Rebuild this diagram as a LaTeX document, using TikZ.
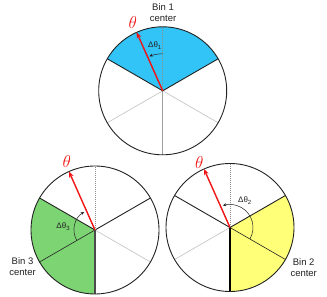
\documentclass[tikz,border=0pt]{standalone}
\usepackage{fontspec}
\setmainfont{Liberation Sans}
\usetikzlibrary{arrows.meta,calc}
\definecolor{binblue}{HTML}{33C4F7}
\definecolor{bingreen}{HTML}{7DD473}
\definecolor{binyellow}{HTML}{FFFF78}
\definecolor{ink}{HTML}{222222}
\definecolor{redarrow}{HTML}{F01414}
\tikzset{
  rim/.style={draw=ink, line width=0.9pt},
  edgeline/.style={draw=ink, line width=0.9pt},
  centerline/.style={draw=ink, line width=0.6pt},
  faintline/.style={draw=black!22, line width=0.7pt},
  axisline/.style={line width=1.5pt},
  dotline/.style={draw=black!45, line width=0.5pt, dash pattern=on 1pt off 1pt},
  thetaarrow/.style={draw=redarrow, line width=1.4pt, -{Stealth[length=6pt,width=5pt]}},
  deltaarc/.style={draw=ink, line width=0.5pt, -{Stealth[length=3.5pt,width=3pt]}},
  lbl/.style={font=\fontsize{9.5}{11}\selectfont, text=ink, align=center, inner sep=0pt},
  dlbl/.style={font=\fontsize{8}{9}\selectfont, text=ink, inner sep=0pt},
  thlbl/.style={font=\fontsize{16}{16}\selectfont, text=redarrow, inner sep=0pt}
}
\begin{document}
\begin{tikzpicture}[x=1pt,y=1pt]
\useasboundingbox (0,0) rectangle (327,297);
\def\R{64}
% ---------------- top circle ----------------
\coordinate (cA) at (162.7,206.2);
\fill[binblue] (cA) -- ++(30:\R) arc[start angle=30,end angle=150,radius=\R] -- cycle;
\draw[faintline] (cA) -- ++(210:\R);
\draw[faintline] (cA) -- ++(330:\R);
\draw[axisline, draw=black!38] (cA) -- ++(270:\R);
\draw[edgeline] (cA) -- ++(30:\R);
\draw[edgeline] (cA) -- ++(150:\R);
\draw[dotline] (cA) -- ++(90:\R);
\draw[rim] (cA) circle[radius=\R];
\draw[deltaarc] ($(cA)+(90:37)$) arc[start angle=90,end angle=111,radius=37];
\draw[thetaarrow] (cA) -- ++(114:\R) coordinate (tA);
\node[lbl] (bin1) at (163,284.5) {Bin 1\\center};
\node[thlbl] (thA) at (132.7,274.3) {$\theta$};
\node[dlbl] (dA) at (155,251.3) {Δθ\textsubscript{1}};
% ---------------- bottom-left circle ----------------
\coordinate (cB) at (95,67);
\fill[bingreen] (cB) -- ++(150:\R) arc[start angle=150,end angle=270,radius=\R] -- cycle;
\draw[faintline] (cB) -- ++(330:\R);
\draw[centerline] (cB) -- ++(210:\R);
\draw[axisline, draw=black!70] (cB) -- ++(270:\R);
\draw[edgeline] (cB) -- ++(30:\R);
\draw[edgeline] (cB) -- ++(150:\R);
\draw[dotline] (cB) -- ++(90:\R);
\draw[rim] (cB) circle[radius=\R];
\draw[deltaarc] ($(cB)+(210:21)$) arc[start angle=210,end angle=121,radius=21];
\draw[thetaarrow] (cB) -- ++(114:\R) coordinate (tB);
\node[lbl] (bin3) at (22.5,30) {Bin 3\\center};
\node[thlbl] (thB) at (66.7,135.3) {$\theta$};
\node[dlbl] (dB) at (63.3,70.3) {Δθ\textsubscript{3}};
% ---------------- bottom-right circle ----------------
\coordinate (cC) at (230,69.5);
\fill[binyellow] (cC) -- ++(270:\R) arc[start angle=270,end angle=390,radius=\R] -- cycle;
\draw[faintline] (cC) -- ++(210:\R);
\draw[centerline] (cC) -- ++(330:\R);
\draw[axisline, draw=black] (cC) -- ++(270:\R);
\draw[edgeline] (cC) -- ++(30:\R);
\draw[edgeline] (cC) -- ++(150:\R);
\draw[dotline] (cC) -- ++(90:\R);
\draw[rim] (cC) circle[radius=\R];
\draw[deltaarc] ($(cC)+(-30:23)$) arc[start angle=-30,end angle=108,radius=23];
\draw[thetaarrow] (cC) -- ++(114:\R) coordinate (tC);
\node[lbl] (bin2) at (303.7,29.5) {Bin 2\\center};
\node[thlbl] (thC) at (199.3,134.7) {$\theta$};
\node[dlbl] (dC) at (245,96.3) {Δθ\textsubscript{2}};
\end{tikzpicture}
\end{document}
